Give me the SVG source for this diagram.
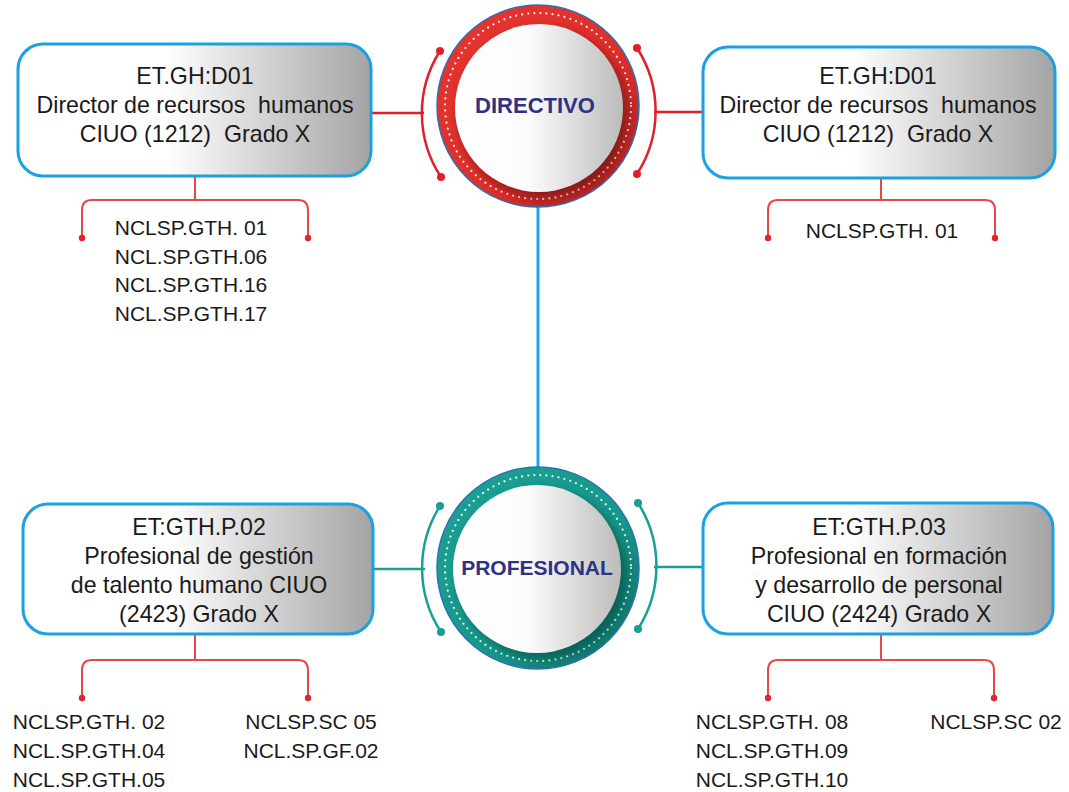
<svg xmlns="http://www.w3.org/2000/svg" width="1069" height="792" viewBox="0 0 1069 792">
  <defs>
    <linearGradient id="boxFill" x1="0" y1="0" x2="1" y2="0">
      <stop offset="0" stop-color="#ffffff"/>
      <stop offset="0.42" stop-color="#ffffff"/>
      <stop offset="1" stop-color="#a4a4a4"/>
    </linearGradient>
    <linearGradient id="discFill" x1="0" y1="0" x2="1" y2="0">
      <stop offset="0" stop-color="#ffffff"/>
      <stop offset="0.45" stop-color="#fbfbfb"/>
      <stop offset="1" stop-color="#bcbcbc"/>
    </linearGradient>
    <linearGradient id="redRing" x1="0" y1="0" x2="1" y2="1">
      <stop offset="0" stop-color="#e8352f"/>
      <stop offset="0.6" stop-color="#dc2f2a"/>
      <stop offset="1" stop-color="#a3201d"/>
    </linearGradient>
    <linearGradient id="tealRing" x1="0" y1="0" x2="1" y2="1">
      <stop offset="0" stop-color="#1aa294"/>
      <stop offset="0.6" stop-color="#17978a"/>
      <stop offset="1" stop-color="#0e6a60"/>
    </linearGradient>
    <filter id="soft" x="-30%" y="-30%" width="160%" height="160%">
      <feGaussianBlur stdDeviation="4"/>
    </filter>
    <style>
      .box { fill: url(#boxFill); stroke: #1ba1e2; stroke-width: 3; }
      .boxText { font-family: "Liberation Sans", Arial, sans-serif; font-size: 23.2px; fill: #1a1a1a; text-anchor: middle; }
      .code { font-family: "Liberation Sans", Arial, sans-serif; font-size: 21px; fill: #1a1a1a; text-anchor: middle; }
      .badge { font-family: "Liberation Sans", Arial, sans-serif; font-weight: bold; fill: #2e3184; text-anchor: middle; }
      .bracket { fill: none; stroke: #e8474a; stroke-width: 2; }
      .bracketDot { fill: #e0262c; }
      .redLine { fill: none; stroke: #e01f2b; stroke-width: 2.5; }
      .redDot { fill: #e01f2b; }
      .tealLine { fill: none; stroke: #17a093; stroke-width: 2.5; }
      .tealDot { fill: #17a093; }
      .dots { fill: none; stroke: #ffffff; stroke-width: 2.2; stroke-linecap: round; stroke-dasharray: 0.01 6.1; opacity: 0.9; }
    </style>
  </defs>

  <rect width="1069" height="792" fill="#ffffff"/>

  <!-- connectors -->
  <g id="connectors">
    <line x1="538" y1="206" x2="538" y2="468" stroke="#1aa7ec" stroke-width="3"/>
    <line class="redLine" x1="371" y1="113" x2="424" y2="113"/>
    <line class="redLine" x1="654" y1="112" x2="704" y2="112"/>
    <line class="tealLine" x1="373" y1="569" x2="425" y2="569"/>
    <line class="tealLine" x1="654" y1="567" x2="704" y2="567"/>

    <!-- code brackets -->
    <path class="bracket" d="M195 177 V200 M308 238 V210 Q308 200 298 200 H92 Q82 200 82 210 V238"/>
    <circle class="bracketDot" cx="82" cy="238" r="3.2"/>
    <circle class="bracketDot" cx="308" cy="238" r="3.2"/>

    <path class="bracket" d="M881 179 V200 M995 238 V210 Q995 200 985 200 H778 Q768 200 768 210 V238"/>
    <circle class="bracketDot" cx="768" cy="238" r="3.2"/>
    <circle class="bracketDot" cx="995" cy="238" r="3.2"/>

    <path class="bracket" d="M195 635 V660 M308 698 V670 Q308 660 298 660 H92 Q82 660 82 670 V698"/>
    <circle class="bracketDot" cx="82" cy="698" r="3.2"/>
    <circle class="bracketDot" cx="308" cy="698" r="3.2"/>

    <path class="bracket" d="M881 635 V660 M994 698 V670 Q994 660 984 660 H778 Q768 660 768 670 V698"/>
    <circle class="bracketDot" cx="768" cy="698" r="3.2"/>
    <circle class="bracketDot" cx="994" cy="698" r="3.2"/>
  </g>

  <!-- level badge: Directivo -->
  <g id="badge-directivo">
    <path class="redLine" d="M440 51 A116 116 0 0 0 441 177"/>
    <circle class="redDot" cx="440" cy="51" r="4"/>
    <circle class="redDot" cx="441" cy="177" r="4"/>
    <path class="redLine" d="M637 48 A116 116 0 0 1 637 174"/>
    <circle class="redDot" cx="637" cy="48" r="4"/>
    <circle class="redDot" cx="637" cy="174" r="4"/>
    <circle cx="538" cy="106" r="101" fill="url(#redRing)" stroke="#2f6fb5" stroke-width="1.5"/>
    <circle class="dots" cx="538" cy="106" r="93"/>
    <circle cx="543" cy="113" r="85" fill="#5a0b0b" opacity="0.55" filter="url(#soft)"/>
    <circle cx="539" cy="108" r="84" fill="url(#discFill)"/>
    <text class="badge" x="535" y="113" font-size="22">DIRECTIVO</text>
  </g>

  <!-- level badge: Profesional -->
  <g id="badge-profesional">
    <path class="tealLine" d="M440 506 A117 117 0 0 0 441 632"/>
    <circle class="tealDot" cx="440" cy="506" r="4"/>
    <circle class="tealDot" cx="441" cy="632" r="4"/>
    <path class="tealLine" d="M638 503 A117 117 0 0 1 638 629"/>
    <circle class="tealDot" cx="638" cy="503" r="4"/>
    <circle class="tealDot" cx="638" cy="629" r="4"/>
    <circle cx="538" cy="568" r="101" fill="url(#tealRing)" stroke="#2f6fb5" stroke-width="1.5"/>
    <circle class="dots" cx="538" cy="568" r="93"/>
    <circle cx="542" cy="574" r="85" fill="#063f39" opacity="0.5" filter="url(#soft)"/>
    <circle cx="537" cy="569" r="84" fill="url(#discFill)"/>
    <text class="badge" x="537" y="575" font-size="21">PROFESIONAL</text>
  </g>

  <!-- position cards -->
  <g id="card-director-left">
    <rect class="box" x="18" y="44" width="353" height="132" rx="25"/>
    <text class="boxText" x="195" y="84" xml:space="preserve">ET.GH:D01</text>
    <text class="boxText" x="195" y="113" xml:space="preserve">Director de recursos  humanos</text>
    <text class="boxText" x="195" y="142" xml:space="preserve">CIUO (1212)  Grado X</text>
  </g>

  <g id="card-director-right">
    <rect class="box" x="703" y="47" width="352" height="131" rx="25"/>
    <text class="boxText" x="878" y="84" xml:space="preserve">ET.GH:D01</text>
    <text class="boxText" x="878" y="113" xml:space="preserve">Director de recursos  humanos</text>
    <text class="boxText" x="878" y="142" xml:space="preserve">CIUO (1212)  Grado X</text>
  </g>

  <g id="card-gestion-talento">
    <rect class="box" x="23" y="504" width="350" height="130" rx="25"/>
    <text class="boxText" x="199" y="535">ET:GTH.P.02</text>
    <text class="boxText" x="199" y="564">Profesional de gestión</text>
    <text class="boxText" x="199" y="593">de talento humano CIUO</text>
    <text class="boxText" x="199" y="622">(2423) Grado X</text>
  </g>

  <g id="card-formacion">
    <rect class="box" x="703" y="503" width="350" height="131" rx="25"/>
    <text class="boxText" x="879" y="535">ET:GTH.P.03</text>
    <text class="boxText" x="879" y="564">Profesional en formación</text>
    <text class="boxText" x="879" y="593">y desarrollo de personal</text>
    <text class="boxText" x="879" y="622">CIUO (2424) Grado X</text>
  </g>

  <!-- competency codes -->
  <g id="codes-director-left">
    <text class="code" x="191" y="235">NCLSP.GTH. 01</text>
    <text class="code" x="191" y="264">NCL.SP.GTH.06</text>
    <text class="code" x="191" y="292">NCL.SP.GTH.16</text>
    <text class="code" x="191" y="321">NCL.SP.GTH.17</text>
  </g>

  <g id="codes-director-right">
    <text class="code" x="882" y="238">NCLSP.GTH. 01</text>
  </g>

  <g id="codes-gestion-a">
    <text class="code" x="89" y="729">NCLSP.GTH. 02</text>
    <text class="code" x="89" y="758">NCL.SP.GTH.04</text>
    <text class="code" x="89" y="787">NCL.SP.GTH.05</text>
  </g>

  <g id="codes-gestion-b">
    <text class="code" x="311" y="729">NCLSP.SC 05</text>
    <text class="code" x="311" y="758">NCL.SP.GF.02</text>
  </g>

  <g id="codes-formacion-a">
    <text class="code" x="772" y="729">NCLSP.GTH. 08</text>
    <text class="code" x="772" y="758">NCL.SP.GTH.09</text>
    <text class="code" x="772" y="787">NCL.SP.GTH.10</text>
  </g>

  <g id="codes-formacion-b">
    <text class="code" x="996" y="729">NCLSP.SC 02</text>
  </g>
</svg>
